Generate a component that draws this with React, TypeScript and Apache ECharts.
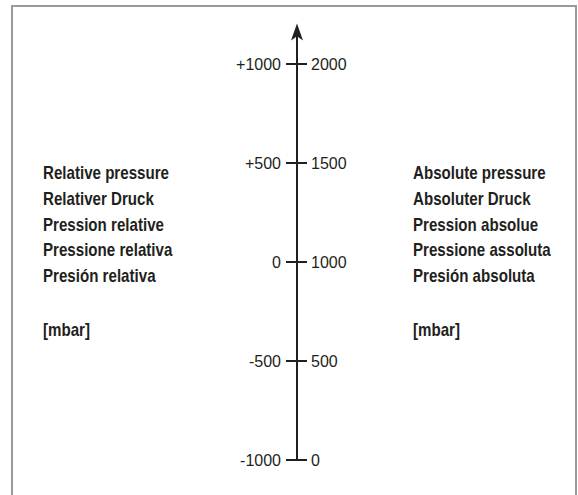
import React, { useEffect, useRef } from 'react';
import * as echarts from 'echarts';

// Scale values (mbar)
const absoluteTicks = [0, 500, 1000, 1500, 2000];
const relativeTicks = [-1000, -500, 0, 500, 1000];
const tickStep = 500;
const leftLabels = ['Relative pressure', 'Relativer Druck', 'Pression relative', 'Pressione relativa', 'Presión relativa'];
const rightLabels = ['Absolute pressure', 'Absoluter Druck', 'Pression absolue', 'Pressione assoluta', 'Presión absoluta'];
const unitLabel = '[mbar]';

const FONT = "'Liberation Sans Narrow', 'Arial Narrow', 'Liberation Sans', Arial, sans-serif";
const INK = '#231f20';

export default function App() {
  const ref = useRef<HTMLDivElement>(null);

  useEffect(() => {
    if (!ref.current) return;
    const chart = echarts.init(ref.current, undefined, { renderer: 'svg' });
    // extra headroom above the top tick for the arrow
    const headroom = 165;
    const absMin = absoluteTicks[0];
    const absMax = absoluteTicks[absoluteTicks.length - 1] + headroom;
    const relMin = relativeTicks[0];
    const relMax = relativeTicks[relativeTicks.length - 1] + headroom;

    const lineYs = [173, 199, 225, 250, 276];
    const textEl = (text: string, x: number, y: number) => ({
      type: 'text',
      x,
      y,
      scaleX: 0.84,
      style: {
        text,
        fill: INK,
        fontSize: 18,
        fontWeight: 'bold',
        fontFamily: FONT,
        verticalAlign: 'middle',
        align: 'left',
      },
    });

    const graphics: any[] = [
      {
        type: 'polyline',
        shape: { points: [[12, 495], [12, 6], [576, 6], [576, 495]] },
        style: { stroke: '#9a9a9a', lineWidth: 2, fill: 'none' },
        silent: true,
      },
    ];
    leftLabels.forEach((t, i) => graphics.push(textEl(t, 43, lineYs[i])));
    rightLabels.forEach((t, i) => graphics.push(textEl(t, 413, lineYs[i])));
    graphics.push(textEl(unitLabel, 43, 330));
    graphics.push(textEl(unitLabel, 413, 330));

    chart.setOption({
      animation: false,
      grid: { left: 297, width: 10, top: 31.5, bottom: 35, containLabel: false },
      xAxis: { type: 'category', show: false, data: ['a'] },
      yAxis: [
        {
          type: 'value',
          position: 'left',
          min: relMin,
          max: relMax,
          interval: tickStep,
          splitLine: { show: false },
          axisLine: {
            show: true,
            onZero: false,
            symbol: ['none', 'arrow'],
            symbolSize: [9, 17],
            symbolOffset: [0, 8],
            lineStyle: { color: INK, width: 2 },
          },
          axisTick: { show: true, length: 11, lineStyle: { color: INK, width: 2 } },
          axisLabel: {
            margin: 16,
            color: INK,
            fontSize: 16,
            fontFamily: FONT,
            showMaxLabel: false,
            formatter: (v: number) => (relativeTicks.includes(v) ? (v > 0 ? '+' + v : String(v)) : ''),
          },
        },
        {
          type: 'value',
          position: 'right',
          offset: -10,
          min: absMin,
          max: absMax,
          interval: tickStep,
          splitLine: { show: false },
          axisLine: { show: false, onZero: false },
          axisTick: { show: true, length: 10, lineStyle: { color: INK, width: 2 } },
          axisLabel: {
            margin: 14,
            color: INK,
            fontSize: 16,
            fontFamily: FONT,
            showMaxLabel: false,
            formatter: (v: number) => (absoluteTicks.includes(v) ? String(v) : ''),
          },
        },
      ],
      series: [{ type: 'line', data: [], yAxisIndex: 0 }],
      graphic: graphics,
    });
    return () => chart.dispose();
  }, []);

  return (
    <div
      ref={ref}
      style={{ position: 'fixed', left: 0, top: 0, width: 578, height: 495, background: '#ffffff' }}
    />
  );
}
